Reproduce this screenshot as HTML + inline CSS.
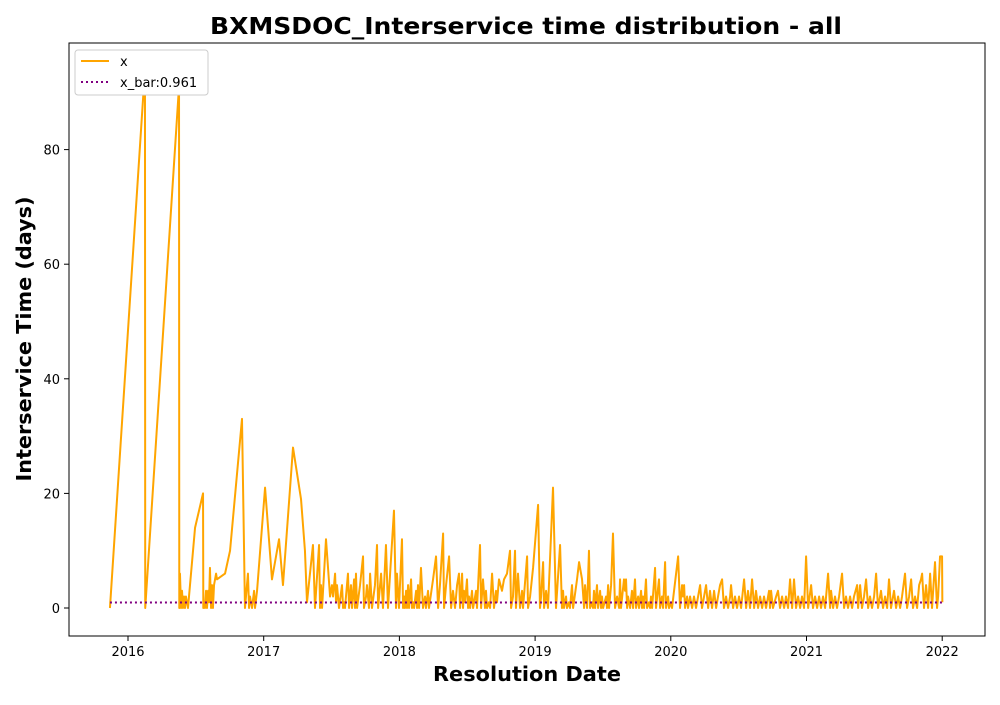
<!DOCTYPE html>
<html><head><meta charset="utf-8"><style>
body{margin:0;background:#fff;}
svg text{font-family:"DejaVu Sans","Liberation Sans",sans-serif;}
</style></head><body>
<svg id="chart" width="1000" height="700" xmlns="http://www.w3.org/2000/svg">
<rect width="1000" height="700" fill="#fff"/>
<text x="526" y="34" text-anchor="middle" font-size="23" font-weight="bold" textLength="632" lengthAdjust="spacingAndGlyphs">BXMSDOC_Interservice time distribution - all</text>
<g id="axes"></g>
<g id="plot"></g>
<rect x="69" y="43" width="916" height="593" fill="none" stroke="#000" stroke-width="1"/>
<text x="527" y="681" text-anchor="middle" font-size="20" font-weight="bold" textLength="188" lengthAdjust="spacingAndGlyphs">Resolution Date</text>
<text transform="translate(31,339) rotate(-90)" text-anchor="middle" font-size="20" font-weight="bold" textLength="285" lengthAdjust="spacingAndGlyphs">Interservice Time (days)</text>
<g>
<rect x="75" y="50" width="133" height="45" rx="3" fill="#fff" stroke="#ccc"/>
<line x1="81" y1="61" x2="109" y2="61" stroke="orange" stroke-width="2"/>
<text x="120" y="66" font-size="13">x</text>
<line x1="81" y1="82" x2="109" y2="82" stroke="purple" stroke-width="2" stroke-dasharray="2,3"/>
<text x="120" y="87" font-size="13">x_bar:0.961</text>
</g>
</svg>
<script>
const baseYear = 2016;
const yearOffsets = [-0.133,0.125,0.127,0.376,0.378,0.383,0.391,0.398,0.405,0.413,0.420,0.427,0.442,0.494,0.553,0.555,0.560,0.567,0.575,0.582,0.590,0.597,0.604,0.612,0.619,0.626,0.634,0.649,0.656,0.715,0.752,0.840,0.862,0.884,0.892,0.899,0.914,0.929,0.936,0.951,
1.010,1.061,1.113,1.142,1.216,1.275,1.304,1.319,1.363,1.378,1.408,1.415,1.422,1.430,1.459,1.489,1.503,1.511,1.526,1.533,1.540,1.555,1.577,1.585,1.592,1.599,1.621,1.629,1.643,1.651,1.666,1.673,1.680,1.688,1.710,1.732,1.739,1.754,1.761,1.776,1.784,1.798,1.820,1.835,1.843,1.865,1.879,1.901,1.916,1.960,1.975,1.982,1.997,
2.019,2.027,2.034,2.041,2.049,2.056,2.064,2.071,2.086,2.093,2.100,2.108,2.123,2.130,2.137,2.145,2.159,2.174,2.189,2.196,2.211,2.218,2.248,2.270,2.285,2.299,2.322,2.329,2.344,2.366,2.381,2.395,2.410,2.425,2.439,2.447,2.462,2.469,2.476,2.484,2.498,2.506,2.513,2.521,2.535,2.543,2.565,2.572,2.594,2.602,2.616,2.631,2.638,2.646,2.660,2.668,2.683,2.697,2.712,2.719,2.734,2.756,2.771,2.793,2.815,2.823,2.837,2.852,2.859,2.874,2.889,2.904,2.911,2.941,2.948,2.963,2.985,
3.022,3.036,3.044,3.059,3.066,3.081,3.095,3.132,3.154,3.184,3.198,3.206,3.213,3.228,3.235,3.250,3.257,3.272,3.280,3.309,3.324,3.346,3.361,3.368,3.383,3.397,3.405,3.420,3.427,3.434,3.442,3.456,3.464,3.479,3.486,3.493,3.501,3.523,3.530,3.538,3.545,3.560,3.574,3.589,3.604,3.619,3.626,3.633,3.655,3.663,3.670,3.678,3.685,3.700,3.714,3.722,3.736,3.744,3.759,3.766,3.781,3.788,3.795,3.803,3.817,3.825,3.840,3.847,3.854,3.862,3.884,3.891,3.913,3.921,3.935,3.943,3.958,3.965,3.980,3.987,
4.002,4.009,4.054,4.068,4.083,4.090,4.098,4.105,4.120,4.127,4.142,4.157,4.171,4.186,4.201,4.216,4.230,4.245,4.260,4.275,4.289,4.304,4.319,4.334,4.348,4.363,4.378,4.392,4.407,4.422,4.437,4.444,4.459,4.473,4.488,4.503,4.518,4.540,4.555,4.569,4.584,4.599,4.614,4.628,4.643,4.658,4.673,4.687,4.702,4.724,4.731,4.739,4.753,4.776,4.790,4.805,4.820,4.835,4.849,4.864,4.879,4.894,4.908,4.923,4.938,4.953,4.967,4.982,4.997,
5.012,5.034,5.048,5.063,5.078,5.093,5.107,5.122,5.137,5.159,5.174,5.181,5.196,5.210,5.225,5.240,5.262,5.277,5.291,5.306,5.321,5.336,5.350,5.373,5.380,5.395,5.409,5.424,5.439,5.454,5.468,5.483,5.498,5.513,5.527,5.549,5.564,5.579,5.594,5.608,5.623,5.645,5.660,5.675,5.690,5.704,5.726,5.741,5.756,5.771,5.785,5.800,5.815,5.830,5.844,5.852,5.866,5.881,5.896,5.911,5.925,5.947,5.962,5.970,5.984,5.999,6.001];
const interserviceDays = [0,94,0,91,0,6,0,3,0,2,0,2,0,14,20,0,1,0,3,0,3,1,7,0,4,0,4,6,5,6,10,33,0,6,0,2,0,3,0,3,
21,5,12,4,28,19,10,1,11,0,11,0,4,0,12,2,4,2,6,1,4,0,4,0,1,0,6,0,4,0,5,0,6,0,4,9,0,2,4,0,6,0,4,11,0,6,0,11,0,17,0,6,0,
12,0,2,0,3,0,4,0,5,0,1,0,3,0,4,0,7,0,2,0,3,0,5,9,0,4,13,0,4,9,0,3,0,4,6,0,6,0,3,1,5,0,2,0,3,0,3,0,11,0,5,0,3,0,1,0,6,0,3,1,5,3,5,6,10,0,2,10,0,6,0,3,0,9,0,2,7,
18,0,2,8,0,3,0,21,0,11,0,3,0,2,0,1,0,4,0,5,8,5,0,4,0,10,0,1,0,3,0,4,0,3,0,2,0,2,0,4,0,4,13,0,2,0,5,0,5,3,5,0,2,0,3,0,5,0,2,0,3,0,2,0,5,0,1,0,2,0,7,0,5,0,2,0,8,0,2,0,
1,0,9,0,4,2,4,0,2,0,2,0,2,0,2,4,0,2,4,0,3,0,3,0,2,4,5,0,2,0,2,4,0,2,0,2,0,5,0,3,0,5,0,3,0,2,0,2,0,3,0,3,0,2,3,0,2,0,2,0,5,0,5,0,2,0,2,0,9,
0,4,0,2,0,2,0,2,0,6,0,3,0,2,0,2,6,0,2,0,2,0,2,4,0,4,0,2,5,0,2,0,2,6,0,3,0,2,0,5,0,3,0,2,0,2,6,0,2,5,0,2,0,4,5,6,0,4,0,6,0,8,0,2,9,9,1];
const xBarValue = 0.961;
const xTickYears = [2016,2017,2018,2019,2020,2021,2022];
const yTickValues = [0,20,40,60,80];

const NS = "http://www.w3.org/2000/svg";
function xScale(year){ return 128 + (year - 2016) * 135.7; }
function yScale(v){ return 608 - v * 5.73; }
function mk(tag, attrs){ const e = document.createElementNS(NS, tag); for (const k in attrs) e.setAttribute(k, attrs[k]); return e; }

const axes = document.getElementById('axes');
xTickYears.forEach(yr => {
  const x = xScale(yr);
  const t = mk('line', {x1:x, y1:636, x2:x, y2:641, stroke:'#000'});
  
  
  axes.appendChild(t);
  const l = mk('text', {x:x, y:656, 'text-anchor':'middle', 'font-size':13});
  
  
  l.textContent = yr;
  axes.appendChild(l);
});
yTickValues.forEach(v => {
  const y = yScale(v);
  const t = mk('line', {x1:64, y1:y, x2:69, y2:y, stroke:'#000'});
  
  
  axes.appendChild(t);
  const l = mk('text', {x:60, y:y + 5, 'text-anchor':'end', 'font-size':13});
  
  
  l.textContent = v;
  axes.appendChild(l);
});

const plot = document.getElementById('plot');
const pts = yearOffsets.map((o, i) => xScale(baseYear + o).toFixed(2) + ',' + yScale(interserviceDays[i]).toFixed(2)).join(' ');
const line = mk('polyline', {points:pts, fill:'none', stroke:'orange', 'stroke-width':2, 'stroke-linejoin':'round'});


plot.appendChild(line);
const first = baseYear + yearOffsets[0], last = baseYear + yearOffsets[yearOffsets.length - 1];
const xb = mk('line', {x1:xScale(first), y1:yScale(xBarValue), x2:xScale(last), y2:yScale(xBarValue), stroke:'purple', 'stroke-width':2, 'stroke-dasharray':'2,3'});


plot.appendChild(xb);
</script>
</body></html>
